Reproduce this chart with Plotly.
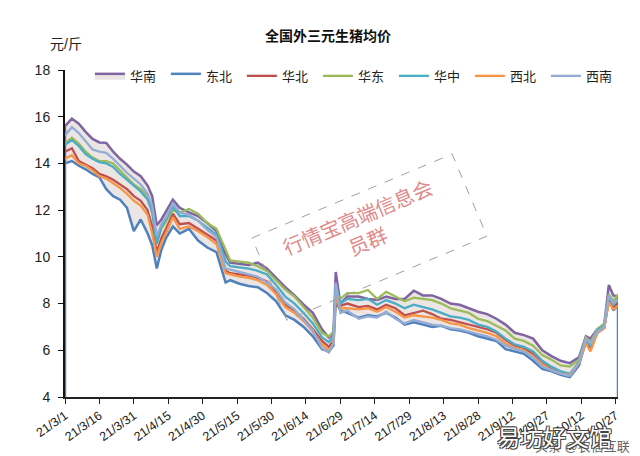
import plotly.graph_objects as go

DATES = ["2021-03-01","2021-03-04","2021-03-07","2021-03-10","2021-03-13","2021-03-16","2021-03-19",
         "2021-03-22","2021-03-25","2021-03-28","2021-03-31","2021-04-03","2021-04-06","2021-04-08",
         "2021-04-10","2021-04-12","2021-04-14","2021-04-17","2021-04-20","2021-04-24","2021-04-28",
         "2021-05-02","2021-05-06","2021-05-10","2021-05-12","2021-05-16","2021-05-20","2021-05-24",
         "2021-05-28","2021-06-01","2021-06-05","2021-06-09","2021-06-13","2021-06-17","2021-06-21",
         "2021-06-24","2021-06-26","2021-06-27","2021-06-29","2021-07-02","2021-07-07","2021-07-11",
         "2021-07-15","2021-07-19","2021-07-23","2021-07-27","2021-07-31","2021-08-04","2021-08-08",
         "2021-08-12","2021-08-16","2021-08-20","2021-08-24","2021-08-28","2021-09-01","2021-09-05",
         "2021-09-09","2021-09-13","2021-09-17","2021-09-21","2021-09-25","2021-09-29","2021-10-03",
         "2021-10-07","2021-10-11","2021-10-14","2021-10-16","2021-10-19","2021-10-22","2021-10-24",
         "2021-10-26","2021-10-28"]

HUANAN = [15.6,15.92,15.7,15.35,15.05,14.9,14.88,14.5,14.2,13.95,13.65,13.45,13.05,
          12.6,11.35,11.6,11.95,12.45,12.1,11.9,11.75,11.45,11.1,10.1,
          9.75,9.7,9.65,9.75,9.5,9.1,8.7,8.35,7.95,7.6,6.9,
          6.55,6.7,9.35,8.0,8.3,
          8.3,8.2,8.15,8.3,8.2,8.2,8.55,8.35,8.35,8.2,8.0,7.95,7.8,7.65,7.55,7.35,7.1,6.75,6.65,6.5,6.0,5.75,5.55,5.45,5.7,
          6.6,6.5,6.9,7.1,8.8,8.35,8.3]
DONGBEI = [14.0,14.1,13.9,13.75,13.55,13.4,12.9,12.6,12.45,12.1,11.1,11.6,11.0,
           10.5,9.5,10.3,10.8,11.3,11.0,11.2,10.7,10.4,10.2,8.9,
           9.0,8.85,8.75,8.7,8.45,8.1,7.5,7.3,7.0,6.6,6.05,
           5.95,6.2,8.1,7.7,7.6,
           7.4,7.5,7.45,7.6,7.4,7.1,7.2,7.1,7.0,7.05,6.9,6.85,6.75,6.6,6.5,6.4,6.05,5.95,5.85,5.55,5.2,5.1,4.95,4.85,5.35,
           6.5,6.1,6.75,6.95,8.2,7.7,7.95]
HUABEI = [14.5,14.65,14.1,13.95,13.8,13.55,13.45,13.3,13.1,12.9,12.6,12.4,12.0,
          11.3,10.2,10.8,11.2,11.85,11.4,11.45,11.2,10.95,10.7,9.4,
          9.3,9.25,9.2,9.1,8.95,8.5,7.95,7.7,7.35,6.9,6.4,
          6.15,6.4,8.4,7.9,8.0,
          7.85,7.9,7.75,7.95,7.8,7.5,7.6,7.7,7.55,7.35,7.3,7.2,7.1,7.0,6.9,6.75,6.45,6.2,6.1,5.85,5.45,5.2,5.0,4.95,5.4,
          6.35,6.0,6.8,7.0,8.15,7.85,8.05]
HUADONG = [14.85,15.1,14.85,14.5,14.25,14.1,14.1,14.0,13.7,13.4,13.1,12.9,12.6,
           12.0,10.6,11.2,11.5,12.0,11.9,12.05,11.85,11.45,11.2,10.3,
           9.85,9.8,9.75,9.6,9.4,9.0,8.6,8.3,7.85,7.4,6.75,
           6.6,6.8,8.5,8.2,8.45,
           8.45,8.58,8.2,8.5,8.3,8.1,8.25,8.2,8.15,8.0,7.8,7.7,7.6,7.35,7.25,7.05,6.85,6.5,6.4,6.2,5.8,5.6,5.35,5.3,5.6,
           6.55,6.35,6.9,7.15,8.4,8.1,8.4]
HUAZHONG = [14.8,15.0,14.75,14.4,14.2,14.05,14.0,13.85,13.55,13.3,13.05,12.8,12.45,
            11.9,10.55,11.3,11.6,12.15,11.75,11.75,11.55,11.25,10.95,9.8,
            9.6,9.55,9.5,9.4,9.25,8.8,8.3,8.0,7.6,7.15,6.55,
            6.35,6.6,8.8,8.0,8.2,
            8.15,8.2,7.95,8.15,8.0,7.8,7.95,7.85,7.75,7.6,7.45,7.4,7.3,7.1,7.0,6.8,6.5,6.25,6.15,5.95,5.55,5.3,5.1,5.0,5.5,
            6.45,6.2,6.85,7.05,8.3,7.95,8.2]
XIBEI = [14.2,14.35,14.0,13.9,13.7,13.45,13.35,13.15,12.95,12.7,12.4,12.2,11.8,
         11.0,10.0,10.6,11.0,11.7,11.2,11.3,11.1,10.85,10.55,9.3,
         9.25,9.15,9.1,9.0,8.8,8.4,7.85,7.6,7.25,6.8,6.25,
         6.0,6.3,8.3,7.8,7.8,
         7.75,7.8,7.65,7.85,7.65,7.4,7.5,7.45,7.4,7.3,7.15,7.1,6.95,6.85,6.75,6.6,6.3,6.1,6.0,5.75,5.4,5.15,5.0,4.95,5.45,
         6.3,5.95,6.75,6.95,8.05,7.75,7.9]
XINAN = [15.2,15.55,15.3,14.95,14.6,14.5,14.45,14.2,13.9,13.6,13.35,13.1,12.7,
         12.2,10.9,11.4,11.7,12.3,11.9,11.8,11.55,11.15,10.85,9.5,
         9.45,9.35,9.25,9.15,8.9,8.6,8.05,7.75,7.3,6.85,6.1,
         5.9,6.3,8.9,7.6,7.7,
         7.35,7.45,7.4,7.65,7.35,7.15,7.3,7.2,7.1,7.05,6.95,6.9,6.8,6.7,6.6,6.45,6.2,6.05,5.95,5.7,5.3,5.15,5.0,4.9,5.45,
         6.5,6.3,6.8,7.0,8.35,8.0,8.15]

TICK_DATES = ["2021-03-01","2021-03-16","2021-03-31","2021-04-15","2021-04-30","2021-05-15",
              "2021-05-30","2021-06-14","2021-06-29","2021-07-14","2021-07-29","2021-08-13",
              "2021-08-28","2021-09-12","2021-09-27","2021-10-12","2021-10-27"]
TICK_LABELS = ["21/3/1","21/3/16","21/3/31","21/4/15","21/4/30","21/5/15","21/5/30",
               "21/6/14","21/6/29","21/7/14","21/7/29","21/8/13","21/8/28","21/9/12",
               "21/9/27","21/10/12","21/10/27"]
Y_MIN, Y_MAX = 4, 18
Y_TICKS = [4, 6, 8, 10, 12, 14, 16, 18]

FONT = "Liberation Sans, Noto Sans CJK SC, sans-serif"

fig = go.Figure()

def area_xy(vals):
    return [DATES[0]] + DATES + [DATES[-1]], [Y_MIN] + vals + [Y_MIN]

x_hn, y_hn = area_xy(HUANAN)
fig.add_trace(go.Scatter(x=x_hn, y=y_hn, name="华南", mode="lines", fill="toself",
                         fillcolor="#ebe5e4", line=dict(color="#8064a2", width=2.5)))
x_db, y_db = area_xy(DONGBEI)
fig.add_trace(go.Scatter(x=x_db, y=y_db, name="东北", mode="lines", fill="toself",
                         fillcolor="#ffffff", line=dict(color="#4f81bd", width=2.5)))

lines = [("华北", HUABEI, "#c0504d"), ("华东", HUADONG, "#9bbb59"), ("华中", HUAZHONG, "#4bacc6"),
         ("西北", XIBEI, "#f79646"), ("西南", XINAN, "#95add5")]
for name, vals, col in lines:
    fig.add_trace(go.Scatter(x=DATES, y=vals, name=name, mode="lines",
                             line=dict(color=col, width=2.3)))

fig.update_layout(
    width=640, height=456,
    margin=dict(l=57, r=30, t=62, b=67),
    paper_bgcolor="white", plot_bgcolor="white",
    font=dict(family=FONT, size=13, color="#222"),
    title=dict(text="<b>全国外三元生猪均价</b>", x=0.5, xref="container", xanchor="center",
               y=1 - 28 / 456, yanchor="middle", font=dict(size=14, color="#111")),
    showlegend=True,
    legend=dict(orientation="h", x=0.045, xanchor="left", y=0.982, yanchor="middle",
                font=dict(size=13, color="#222"), bgcolor="rgba(0,0,0,0)",
                entrywidth=31, entrywidthmode="pixels", tracegroupgap=0),
    xaxis=dict(type="date", range=[DATES[0], DATES[-1]], tickvals=TICK_DATES, ticktext=TICK_LABELS,
               tickangle=-35, showgrid=False, zeroline=False, showline=True, linecolor="#222",
               linewidth=1.5, ticks="outside", ticklen=5, tickcolor="#222",
               tickfont=dict(size=12.5, color="#222")),
    yaxis=dict(range=[Y_MIN, Y_MAX], tickvals=Y_TICKS, showgrid=False, zeroline=False,
               showline=True, linecolor="#111", linewidth=2, ticks="outside", ticklen=5,
               tickcolor="#111", ticklabelstandoff=5, tickfont=dict(size=14, color="#222")),
)

fig.add_annotation(text="元/斤", xref="paper", yref="paper", x=0.002, y=1.0795,
                   showarrow=False, xanchor="center", yanchor="middle", font=dict(size=14, color="#222"))

# watermark box
fig.add_shape(type="path", xref="paper", yref="paper",
              path="M 0.338 0.486 L 0.700 0.743 L 0.763 0.492 L 0.401 0.235 Z",
              line=dict(color="#a0a0a0", width=1, dash="dash"), fillcolor="rgba(0,0,0,0)")
fig.add_annotation(text="行情宝高端信息会<br>员群", xref="paper", yref="paper", x=0.539, y=0.511,
                   showarrow=False, textangle=-23, align="center", xanchor="center", yanchor="middle",
                   font=dict(size=20, color="#e08a8a"))

fig.add_annotation(text="头条 @农信互联", xref="paper", yref="paper", x=0.935, y=-0.152,
                   showarrow=False, xanchor="center", yanchor="middle",
                   font=dict(size=13, color="#666"))
fig.add_annotation(text="易坊好文馆", xref="paper", yref="paper", x=0.885, y=-0.125,
                   showarrow=False, xanchor="center", yanchor="middle",
                   font=dict(size=23, color="white",
                             shadow="-1px -1px 0 #444, 1px -1px 0 #444, -1px 1px 0 #444, 1px 1px 0 #444"))

fig.write_html("out.html")
